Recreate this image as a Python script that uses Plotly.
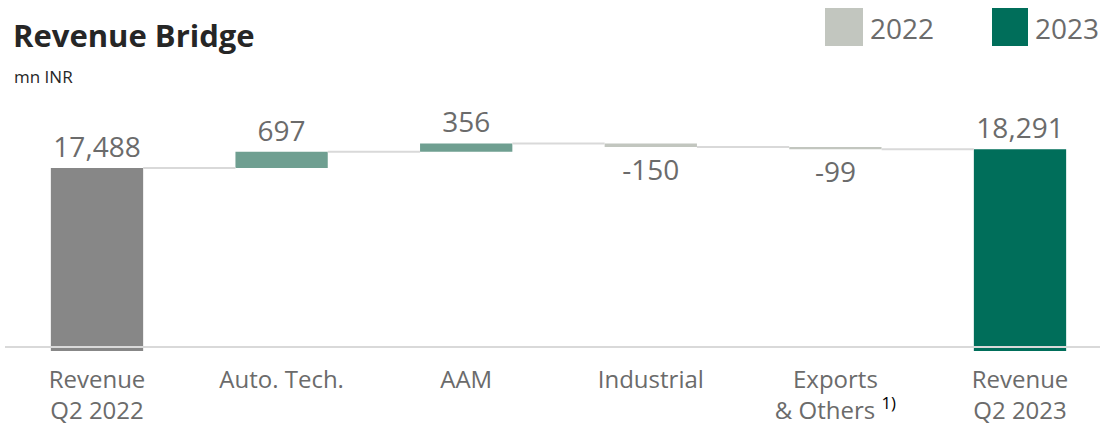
import plotly.graph_objects as go

categories = ["Revenue<br>Q2 2022", "Auto. Tech.", "AAM", "Industrial",
              "Exports<br>& Others <sup><span style='color:#000000'>1)</span></sup>",
              "Revenue<br>Q2 2023"]
values = [17488, 697, 356, -150, -99, 18291]
measures = ["total", "relative", "relative", "relative", "relative", "total"]
legend_labels = ["2022", "2023"]

C_2022_TOTAL = "#878787"
C_UP = "#6f9f91"
C_DOWN = "#c2c6bf"
C_2023 = "#006e5a"
C_LEG22 = "#c2c6bf"
TXT = "#6b6b6b"
FONT = "Open Sans"

# compute bases / running totals
bases, heights, colors, cums = [], [], [], []
run = 0
for i, (v, m) in enumerate(zip(values, measures)):
    if m == "total":
        bases.append(0)
        heights.append(v)
        run = v
        colors.append(C_2022_TOTAL if i == 0 else C_2023)
    else:
        bases.append(run)
        heights.append(v)
        run += v
        colors.append(C_UP if v >= 0 else C_DOWN)
    cums.append(run)

xs = list(range(len(categories)))
half = 0.25

fig = go.Figure()
fig.add_trace(go.Bar(
    x=xs, y=heights, base=bases, width=2 * half,
    marker=dict(color=colors, line=dict(width=0)),
    text=[f"{v:,}" for v in values], textposition="outside",
    textfont=dict(family=FONT, size=28, color=TXT),
    constraintext="none", cliponaxis=False, hoverinfo="skip",
))

# connectors
cx, cy = [], []
for i in range(len(xs) - 1):
    cx += [xs[i] + half, xs[i + 1] - half, None]
    cy += [cums[i], cums[i], None]
fig.add_trace(go.Scatter(x=cx, y=cy, mode="lines",
                         line=dict(color="#d9d9d9", width=2),
                         hoverinfo="skip", cliponaxis=False))

W, H = 1104, 431
L, R, T, B = 5, 4, 100, 80
ph = H - T - B
pw = W - L - R

def px(x):
    return (x - L) / pw

def py(y):
    return (H - B - y) / ph

upp = (values[-1] - values[0]) / (168.0 - 149.3)
y1 = values[-1] + (149.3 - T) * upp
y0 = y1 - ph * upp
x_lo = -(97 - L) / 184.6
x_hi = x_lo + pw / 184.6

fig.update_layout(
    width=W, height=H, margin=dict(l=L, r=R, t=T, b=B),
    paper_bgcolor="white", plot_bgcolor="white", showlegend=False,
    font=dict(family=FONT, color=TXT),
    xaxis=dict(range=[x_lo, x_hi], tickvals=xs, ticktext=categories,
               tickfont=dict(family=FONT, size=24, color=TXT),
               ticklabelstandoff=12,
               showgrid=False, zeroline=False, showline=False, ticks=""),
    yaxis=dict(range=[y0, y1], visible=False, showgrid=False, zeroline=False),
    shapes=[
        dict(type="line", xref="paper", yref="y domain", x0=0, x1=1,
             y0=4 / ph, y1=4 / ph, line=dict(color="#d9d9d9", width=2), layer="above"),
        dict(type="rect", xref="paper", yref="paper", x0=px(825), x1=px(863),
             y0=py(46), y1=py(8), fillcolor=C_LEG22, line=dict(width=0)),
        dict(type="rect", xref="paper", yref="paper", x0=px(992), x1=px(1028),
             y0=py(46), y1=py(8), fillcolor=C_2023, line=dict(width=0)),
    ],
    annotations=[
        dict(text="<b>Revenue Bridge</b>", xref="paper", yref="paper",
             x=px(11), y=py(35), xanchor="left", yanchor="middle", showarrow=False,
             font=dict(family=FONT, size=31, color="#262626")),
        dict(text="mn INR", xref="paper", yref="paper",
             x=px(12), y=py(76), xanchor="left", yanchor="middle", showarrow=False,
             font=dict(family=FONT, size=17, color="#262626")),
        dict(text=legend_labels[0], xref="paper", yref="paper",
             x=px(868), y=py(28), xanchor="left", yanchor="middle", showarrow=False,
             font=dict(family=FONT, size=28, color=TXT)),
        dict(text=legend_labels[1], xref="paper", yref="paper",
             x=px(1033), y=py(28), xanchor="left", yanchor="middle", showarrow=False,
             font=dict(family=FONT, size=28, color=TXT)),
    ],
)

fig.write_html("out.html")
